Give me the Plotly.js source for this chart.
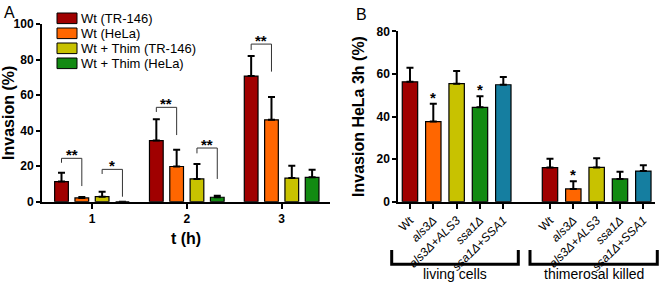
<!DOCTYPE html>
<html><head><meta charset="utf-8">
<script src="https://cdn.plot.ly/plotly-3.0.1.min.js"></script>
<style>html,body{margin:0;padding:0;background:#fff}#chart{width:661px;height:284px}</style>
</head><body><div id="chart"></div>
<script>
// ---------- Panel A data ----------
const timeLabels = ['1', '2', '3'];
const seriesNames = ['Wt (TR-146)', 'Wt (HeLa)', 'Wt + Thim (TR-146)', 'Wt + Thim (HeLa)'];
const wtTR146 = [11.3, 34.4, 70.7];
const wtTR146Err = [5.0, 12.0, 11.3];
const wtHeLa = [2.1, 19.8, 46.1];
const wtHeLaErr = [0.5, 9.4, 12.8];
const thimTR146 = [2.8, 12.8, 13.3];
const thimTR146Err = [2.8, 8.4, 7.0];
const thimHeLa = [0.0, 2.5, 13.7];
const thimHeLaErr = [null, 0.9, 4.3];
// significance brackets (panel A): group, from-series, to-series, top, left leg end, right leg end, label
const sigGroup = [0, 0, 1, 1, 2];
const sigFrom = [0, 2, 0, 2, 0];
const sigTo = [1, 3, 1, 3, 1];
const sigTop = [24.4, 18.2, 53.1, 30.2, 88.7];
const sigLeftEnd = [21.9, 15.6, 50.5, 27.2, 85.4];
const sigRightEnd = [8.8, 2.8, 37.5, 12.8, 73.2];
const sigText = ['**', '*', '**', '**', '**'];

// ---------- Panel B data ----------
const strainCats = ['Wt', 'als3Δ', 'als3Δ+ALS3', 'ssa1Δ', 'ssa1Δ+SSA1'];
const strainLabels = ['Wt', '<i>als3Δ</i>', '<i>als3Δ+ALS3</i>', '<i>ssa1Δ</i>', '<i>ssa1Δ+SSA1</i>'];
const livingVals = [56.3, 37.6, 55.4, 44.3, 54.9];
const livingErr = [6.6, 8.4, 6.0, 5.2, 3.6];
const livingSig = ['', '*', '', '*', ''];
const killedVals = [16.0, 6.0, 16.1, 10.7, 14.4];
const killedErr = [4.2, 3.6, 4.3, 3.4, 2.7];
const killedSig = ['', '*', '', '', ''];
const groupLabels = ['living cells', 'thimerosal killed'];

// ---------- styles ----------
const W = 661, H = 284;
const FONT = 'Liberation Sans, Arial, Helvetica, sans-serif';
const colorsA = ['#A00000', '#FF6600', '#C8C200', '#128A12'];
const colorsB = ['#A00000', '#FF6600', '#C8C200', '#128A12', '#157EA0'];
const px = x => x / W;
const py = y => 1 - y / H;
const BARGAP_A = 0.143, BARGROUPGAP_A = 0.325;

const valsA = [wtTR146, wtHeLa, thimTR146, thimHeLa];
const errsA = [wtTR146Err, wtHeLaErr, thimTR146Err, thimHeLaErr];

const traces = [];
valsA.forEach((v, i) => {
  traces.push({
    type: 'bar', x: timeLabels, y: v, name: seriesNames[i], xaxis: 'x', yaxis: 'y',
    marker: {color: colorsA[i], line: {color: '#000', width: 1.2}},
    error_y: {type: 'data', symmetric: false, array: errsA[i], arrayminus: v.map(() => 0),
              color: '#000', thickness: 2, width: 3.5},
    showlegend: false, hoverinfo: 'skip'
  });
});
[[livingVals, livingErr, 'x2'], [killedVals, killedErr, 'x3']].forEach(([v, e, xa]) => {
  traces.push({
    type: 'bar', x: strainCats, y: v, xaxis: xa, yaxis: 'y2', width: 0.66,
    marker: {color: colorsB, line: {color: '#000', width: 1.2}},
    error_y: {type: 'data', symmetric: false, array: e, arrayminus: v.map(() => 0),
              color: '#000', thickness: 2, width: 3.5},
    showlegend: false, hoverinfo: 'skip'
  });
});

const shapes = [];
const annotations = [];
// brackets panel A (positions from bar slot geometry)
const slot = (1 - BARGAP_A) / 4;
const barPos = (g, s) => g + (s - 1.5) * slot;
sigGroup.forEach((g, k) => {
  const xa = barPos(g, sigFrom[k]), xb = barPos(g, sigTo[k]);
  const ln = {type: 'line', xref: 'x', yref: 'y', line: {color: '#333', width: 1}};
  shapes.push(Object.assign({}, ln, {x0: xa, x1: xa, y0: sigLeftEnd[k], y1: sigTop[k]}));
  shapes.push(Object.assign({}, ln, {x0: xa, x1: xb, y0: sigTop[k], y1: sigTop[k]}));
  shapes.push(Object.assign({}, ln, {x0: xb, x1: xb, y0: sigTop[k], y1: sigRightEnd[k]}));
  annotations.push({xref: 'x', yref: 'y', x: (xa + xb) / 2, y: sigTop[k], text: sigText[k],
    showarrow: false, yanchor: 'bottom', yshift: -7, font: {family: FONT, size: 15, color: '#000', weight: 'bold'}});
});
// stars panel B
[[livingVals, livingErr, livingSig, 'x2'], [killedVals, killedErr, killedSig, 'x3']].forEach(([v, e, s, xa]) => {
  s.forEach((t, i) => {
    if (!t) return;
    annotations.push({xref: xa, yref: 'y2', x: strainCats[i], y: v[i] + e[i], text: t, showarrow: false,
      yanchor: 'bottom', yshift: -4, font: {family: FONT, size: 15, color: '#000', weight: 'bold'}});
  });
});
// manual legend panel A
seriesNames.forEach((n, i) => {
  const yc = 18.3 + 15 * i;
  shapes.push({type: 'rect', xref: 'paper', yref: 'paper', x0: px(57), x1: px(77), y0: py(yc + 5.3), y1: py(yc - 5.3),
    fillcolor: colorsA[i], line: {color: '#000', width: 1}});
  annotations.push({xref: 'paper', yref: 'paper', x: px(79), y: py(yc), xanchor: 'left', yanchor: 'middle',
    text: n, showarrow: false, font: {family: FONT, size: 13, color: '#000'}});
});
// group brackets panel B
const brk = [[391.7, 518.3], [530, 657.3]];
brk.forEach(([a, b], i) => {
  shapes.push({type: 'path', xref: 'paper', yref: 'paper',
    path: `M${px(a)},${py(250)} L${px(a)},${py(264.3)} L${px(b)},${py(264.3)} L${px(b)},${py(250)}`,
    line: {color: '#000', width: 3}});
  annotations.push({xref: 'paper', yref: 'paper', x: px((a + b) / 2), y: py(273.5), xanchor: 'center', yanchor: 'middle',
    text: groupLabels[i], showarrow: false, font: {family: FONT, size: 14, color: '#000'}});
});
// panel letters
annotations.push({xref: 'paper', yref: 'paper', x: px(1.5), y: py(12.5), xanchor: 'left', yanchor: 'middle', text: 'A',
  showarrow: false, font: {family: FONT, size: 16, color: '#000'}});
annotations.push({xref: 'paper', yref: 'paper', x: px(354), y: py(14), xanchor: 'left', yanchor: 'middle', text: 'B',
  showarrow: false, font: {family: FONT, size: 16, color: '#000'}});

const axBase = {showline: true, linewidth: 2, linecolor: '#000', ticks: 'outside', ticklen: 5, tickwidth: 2,
  tickcolor: '#000', showgrid: false, zeroline: false, fixedrange: true, automargin: false,
  tickfont: {family: FONT, size: 12, color: '#000', weight: 'bold'}};

const layout = {
  width: W, height: H, margin: {l: 0, r: 0, t: 0, b: 0}, paper_bgcolor: '#fff', plot_bgcolor: 'rgba(0,0,0,0)',
  barmode: 'group', bargap: BARGAP_A, bargroupgap: BARGROUPGAP_A, showlegend: false,
  font: {family: FONT, color: '#000'},
  xaxis: Object.assign({}, axBase, {domain: [px(42), px(330)], anchor: 'y', type: 'category',
    range: [-0.527, 2.51], title: {text: 't (h)', font: {family: FONT, size: 16, weight: 'bold'}, standoff: 8}}),
  yaxis: Object.assign({}, axBase, {domain: [py(201.7), py(24)], anchor: 'x', range: [0, 100],
    tickvals: [0, 20, 40, 60, 80, 100], ticklen: 4,
    title: {text: 'Invasion (%)', font: {family: FONT, size: 16, weight: 'bold'}, standoff: 8}}),
  xaxis2: Object.assign({}, axBase, {domain: [px(398.3), px(526.65)], anchor: 'y2', type: 'category',
    range: [-0.5, 5.0], tickvals: strainCats, ticktext: strainLabels, tickangle: -45,
    tickfont: {family: FONT, size: 12, color: '#000'}}),
  xaxis3: Object.assign({}, axBase, {domain: [px(526.65), px(655)], anchor: 'y2', type: 'category',
    range: [-1.0, 4.5], tickvals: strainCats, ticktext: strainLabels, tickangle: -45,
    tickfont: {family: FONT, size: 12, color: '#000'}}),
  yaxis2: Object.assign({}, axBase, {domain: [py(201.7), py(31.3)], anchor: 'x2', range: [0, 80],
    tickvals: [0, 20, 40, 60, 80], ticklen: 4,
    title: {text: 'Invasion HeLa 3h (%)', font: {family: FONT, size: 16, weight: 'bold'}, standoff: 8}}),
  shapes: shapes, annotations: annotations
};

Plotly.newPlot('chart', traces, layout, {staticPlot: true, displayModeBar: false});
</script></body></html>
